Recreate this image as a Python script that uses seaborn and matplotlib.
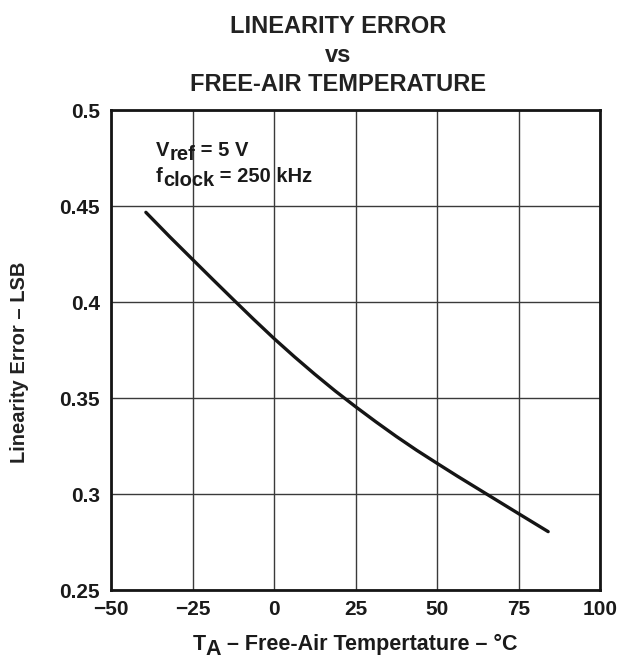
import numpy as np
import pandas as pd
import matplotlib
matplotlib.use("Agg")
import matplotlib.pyplot as plt
from matplotlib.transforms import offset_copy
import seaborn as sns

# 곡선 위에서 읽은 값 (온도 °C, 선형성 오차 LSB)
temp_c = [-39.3, -32, -25, -18.75, -12.5, -6.25, 0, 6.25, 12.5, 18.75, 25,
          31.25, 37.5, 43.75, 50, 56.25, 62.5, 68.75, 75, 84.1]
lin_err = [0.4467, 0.4340, 0.4222, 0.4117, 0.4013, 0.3910, 0.3810, 0.3715, 0.3624, 0.3537, 0.3455,
           0.3376, 0.3300, 0.3228, 0.3160, 0.3093, 0.3028, 0.2963, 0.2898, 0.2804]

x_ticks = [-50, -25, 0, 25, 50, 75, 100]
x_tick_labels = ["\u221250", "\u221225", "0", "25", "50", "75", "100"]
y_ticks = [0.25, 0.3, 0.35, 0.4, 0.45, 0.5]
y_tick_labels = ["0.25", "0.3", "0.35", "0.4", "0.45", "0.5"]

title_lines = ["LINEARITY ERROR", "vs", "FREE-AIR TEMPERATURE"]

sns.set_style("white")
plt.rcParams['font.family'] = ['Liberation Sans', 'DejaVu Sans']
plt.rcParams['font.weight'] = 'bold'

df = pd.DataFrame({"temp": temp_c, "err": lin_err})

W, H = 621, 663
fig = plt.figure(figsize=(W / 100, H / 100), dpi=100)
ax = fig.add_axes([111 / W, 1 - 590 / H, 489 / W, 480 / H])

sns.lineplot(data=df, x="temp", y="err", ax=ax, color="#151515", linewidth=2.4,
             sort=True, estimator=None)

ax.set_xlim(-50, 100)
ax.set_ylim(0.25, 0.5)
ax.set_xticks(x_ticks)
ax.set_xticklabels(x_tick_labels, fontsize=15, fontweight='bold', color="#1a1a1a")
ax.set_yticks(y_ticks)
ax.set_yticklabels(y_tick_labels, fontsize=15, fontweight='bold', color="#1a1a1a")
ax.tick_params(axis='x', length=0, pad=7)
ax.tick_params(axis='y', length=0, pad=8)
ax.grid(True, color="#3a3a3a", linewidth=1.0)
for s in ax.spines.values():
    s.set_color("#151515")
    s.set_linewidth(2.0)
ax.set_xlabel("")
ax.set_ylabel("")

renderer = fig.canvas.get_renderer()


def piece_texts(x_px, y_px, parts, size, center=False):
    # parts: (문자열, 아래로 내릴 픽셀) 목록을 이어서 그림
    base = fig.transFigure
    widths = []
    for txt, _ in parts:
        t = fig.text(0, 0, txt, fontsize=size, fontweight="bold")
        widths.append(t.get_window_extent(renderer).width)
        t.remove()
    start = x_px - sum(widths) / 2 if center else x_px
    cur = start
    for (txt, drop), w in zip(parts, widths):
        tr = offset_copy(base, fig=fig, x=cur, y=H - y_px - drop, units='dots')
        fig.text(0, 0, txt, transform=tr, fontsize=size, fontweight="bold",
                 ha="left", va="baseline", color="#1a1a1a")
        cur += w


# 제목 (세 줄)
for line, base_y in zip(title_lines, [33, 62, 91]):
    fig.text(338 / W, 1 - base_y / H, line, ha="center", va="baseline",
             fontsize=17, fontweight="bold", color="#222222")

# 조건 표기
piece_texts(156, 156, [("V", 0), ("ref", 4), (" = 5 V", 0)], 14.5)
piece_texts(156, 182, [("f", 0), ("clock", 4), (" = 250 kHz", 0)], 14.5)

# 축 제목
fig.text(20 / W, 1 - 362 / H, "Linearity Error \u2013 LSB", rotation=90,
         ha="center", va="center", fontsize=14.5, fontweight="bold", color="#222222")
piece_texts(355, 650, [("T", 0), ("A", 5), (" \u2013 Free-Air Tempertature \u2013 \u00b0C", 0)],
            15.5, center=True)

fig.savefig("out.png", dpi=100)
